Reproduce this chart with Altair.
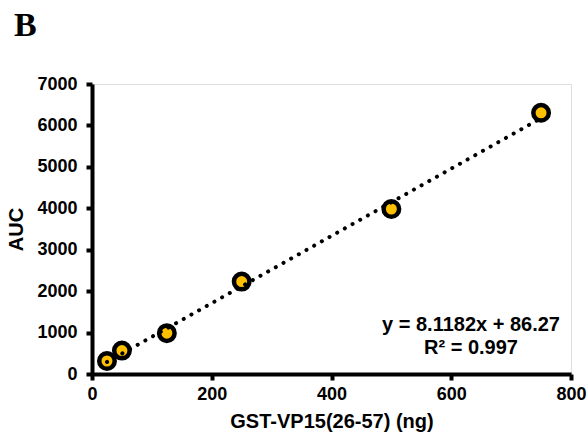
import altair as alt
import pandas as pd

# Data
amount_ng = [25, 50, 125, 250, 500, 750]
auc_values = [314, 565, 985, 2230, 3983, 6305]

slope = 8.1182
intercept = 86.27
fit_x = [25, 750]
fit_y = [slope * v + intercept for v in fit_x]

eq_lines = ["y = 8.1182x + 86.27", "R² = 0.997"]

pts = pd.DataFrame({"x": amount_ng, "y": auc_values})
fit = pd.DataFrame({"x": fit_x, "y": fit_y})

FONT = "Liberation Sans"

xscale = alt.Scale(domain=[0, 800], nice=False, zero=True)
yscale = alt.Scale(domain=[0, 7000], nice=False)

xenc = alt.X(
    "x:Q",
    scale=xscale,
    axis=alt.Axis(
        title="GST-VP15(26-57) (ng)",
        values=[0, 200, 400, 600, 800],
        format="d",
        grid=False,
        domainColor="black",
        domainWidth=4,
        tickColor="black",
        tickWidth=4,
        tickSize=6,
        labelFont=FONT,
        labelFontSize=18,
        labelFontWeight="bold",
        labelColor="black",
        labelPadding=5,
        labelFlush=False,
        titleFont=FONT,
        titleFontSize=20,
        titleFontWeight="bold",
        titleColor="black",
        titlePadding=8,
    ),
)
yenc = alt.Y(
    "y:Q",
    scale=yscale,
    axis=alt.Axis(
        title="AUC",
        values=[0, 1000, 2000, 3000, 4000, 5000, 6000, 7000],
        format="d",
        grid=False,
        domainColor="black",
        domainWidth=4,
        tickColor="black",
        tickWidth=4,
        tickSize=6,
        labelFont=FONT,
        labelFontSize=18,
        labelFontWeight="bold",
        labelColor="black",
        labelPadding=9,
        labelFlush=False,
        titleFont=FONT,
        titleFontSize=20,
        titleFontWeight="bold",
        titleColor="black",
        titlePadding=10,
    ),
)

points = alt.Chart(pts).mark_point(
    filled=True, fill="#FFC000", stroke="black", strokeWidth=4.5, size=240, opacity=1
).encode(x=xenc, y=yenc)

line = alt.Chart(fit).mark_line(
    color="black", strokeWidth=4, strokeDash=[0.1, 8.7], strokeCap="round"
).encode(x=alt.X("x:Q", scale=xscale), y=alt.Y("y:Q", scale=yscale))

eq1 = alt.Chart(pd.DataFrame({"t": [eq_lines[0]]})).mark_text(
    font=FONT, fontSize=20, fontWeight="bold", color="black", align="center", baseline="middle"
).encode(text="t:N", x=alt.value(379), y=alt.value(241))

eq2 = alt.Chart(pd.DataFrame({"t": [eq_lines[1]]})).mark_text(
    font=FONT, fontSize=20, fontWeight="bold", color="black", align="center", baseline="middle"
).encode(text="t:N", x=alt.value(379), y=alt.value(264))

label_b = alt.Chart(pd.DataFrame({"t": ["B"]})).mark_text(
    font="Liberation Serif", fontSize=34, fontWeight="bold", color="black", align="left", baseline="alphabetic"
).encode(text="t:N", x=alt.value(-78), y=alt.value(-48))

chart = (
    alt.layer(points, line, eq1, eq2, label_b)
    .properties(
        width=479,
        height=290,
        autosize=alt.AutoSizeParams(type="none"),
        padding={"left": 92, "top": 84, "right": 16, "bottom": 65},
    )
    .configure_view(stroke="black", strokeWidth=4)
    .configure(background="white")
)

chart.save("out.html", embed_options={"renderer": "svg", "actions": False})
